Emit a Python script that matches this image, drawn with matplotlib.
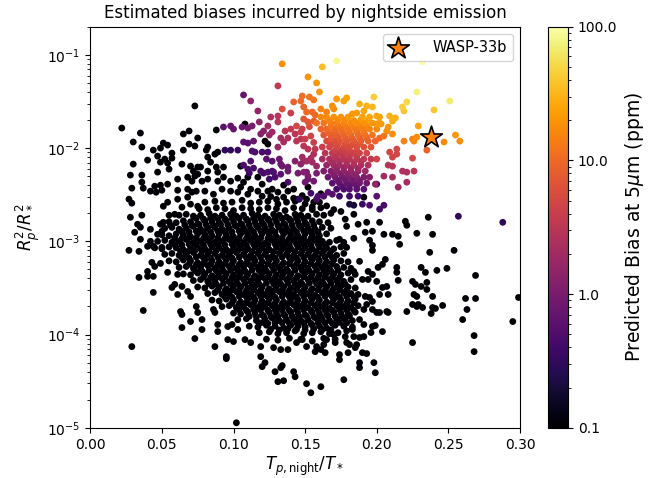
import matplotlib
matplotlib.use("Agg")
import matplotlib.pyplot as plt
import numpy as np
from matplotlib.colors import LogNorm

# ---------------- data ----------------
# black points (bias below 0.1 ppm): (T_night/T_star, log10(Rp^2/R*^2))
black_upper = [
    (.073,-1.548),(.022,-1.785),(.035,-1.839),(.065,-1.849),(.069,-1.817),(.030,-1.935),(.036,-1.989),
    (.051,-1.946),(.054,-1.968),(.044,-2.022),(.049,-2.000),(.069,-1.957),(.073,-1.978),(.065,-2.022),
    (.057,-2.054),(.047,-2.086),(.052,-2.118),(.057,-2.108),(.040,-2.129),(.030,-2.172),(.064,-2.172),
    (.070,-2.194),(.075,-2.204),(.049,-2.151),(.054,-2.161),(.047,-2.258),(.055,-2.226),(.028,-2.290),
    (.036,-2.290),(.072,-2.247),(.075,-2.280),(.061,-2.333),(.068,-2.312),(.071,-2.355),(.036,-2.366),
    (.045,-2.409),(.049,-2.398),(.054,-2.387),(.029,-2.430),(.037,-2.430),(.042,-2.462),(.046,-2.473),
    (.050,-2.452),(.061,-2.452),(.068,-2.441),(.071,-2.473),(.074,-2.462),(.027,-2.548),(.029,-2.591),
    (.054,-2.581),(.051,-2.624),(.061,-2.548),(.068,-2.527),(.070,-2.602),(.064,-2.634),(.075,-2.624),
    (.028,-2.742),(.036,-2.720),(.055,-2.720),(.059,-2.710),(.033,-2.817),(.035,-2.849),(.049,-2.817),
    (.051,-2.796),(.056,-2.828),(.031,-2.903),(.042,-2.871),(.047,-2.925),(.050,-2.892),(.035,-2.978),
    (.042,-3.000),(.040,-3.054),(.044,-3.054),(.050,-3.065),(.027,-3.097),(.034,-3.108),(.043,-3.226),
    (.049,-3.237),(.045,-3.269),
    (.088,-1.806),(.108,-1.742),(.075,-1.892),(.082,-1.989),(.081,-2.022),(.089,-2.043),(.088,-2.204),
    (.093,-2.204),(.082,-2.097),(.084,-2.151),(.077,-2.204),(.082,-2.247),(.073,-2.301),(.078,-2.355),
    (.082,-2.333),(.089,-2.355),(.093,-2.312),(.098,-2.355),(.103,-2.323),(.107,-2.366),(.110,-2.312),
    (.117,-2.312),(.122,-1.925),(.124,-1.957),(.087,-2.065),(.105,-2.194),(.089,-2.258),(.138,-2.462),
    (.142,-2.441),(.145,-2.548),(.152,-2.419),(.124,-2.462),(.127,-2.441),(.131,-2.473),(.117,-2.462),
    (.110,-2.495),(.103,-2.473),(.098,-2.462),(.191,-2.527),(.156,-2.581),(.151,-2.548),
    (.120,-2.387),(.135,-2.398),(.080,-2.462),(.086,-2.495),(.092,-2.441),(.105,-2.419),(.112,-2.441),
    (.120,-2.516),(.135,-2.527),(.142,-2.538),
    (.150,-2.60),(.155,-2.63),(.160,-2.58),(.165,-2.62),(.170,-2.66),(.168,-2.70),(.175,-2.68),
    (.148,-2.51),(.161,-2.49),(.130,-2.55),(.126,-2.52),
]

black_core_top = [
    (.080,-2.58),(.087,-2.57),(.093,-2.59),(.099,-2.58),(.106,-2.56),(.112,-2.59),(.118,-2.58),(.124,-2.57),
    (.131,-2.60),(.137,-2.58),(.143,-2.57),
    (.076,-2.65),(.082,-2.66),(.088,-2.64),(.094,-2.65),(.100,-2.67),(.106,-2.64),(.112,-2.65),(.118,-2.66),
    (.124,-2.64),(.130,-2.65),(.136,-2.67),(.142,-2.64),(.148,-2.65),(.155,-2.66),(.161,-2.64),
    (.062,-2.72),(.067,-2.71),(.072,-2.73),(.077,-2.72),(.083,-2.70),(.087,-2.73),(.092,-2.72),(.098,-2.71),
    (.102,-2.73),(.107,-2.72),(.113,-2.70),(.117,-2.72),(.122,-2.73),(.128,-2.71),(.132,-2.72),(.137,-2.74),
    (.143,-2.71),(.147,-2.72),(.152,-2.73),(.158,-2.71),(.163,-2.72),
    (.055,-2.79),(.060,-2.80),(.065,-2.78),(.070,-2.79),(.075,-2.81),(.080,-2.78),(.085,-2.79),(.090,-2.80),
    (.095,-2.78),(.100,-2.79),(.105,-2.81),(.110,-2.78),(.115,-2.79),(.120,-2.80),(.125,-2.78),(.130,-2.79),
    (.135,-2.81),(.140,-2.78),(.145,-2.79),(.150,-2.80),(.155,-2.78),(.160,-2.79),(.166,-2.80),
    (.052,-2.86),(.057,-2.85),(.062,-2.87),(.067,-2.86),(.072,-2.84),(.077,-2.87),(.082,-2.86),(.087,-2.85),
    (.092,-2.87),(.097,-2.86),(.102,-2.84),(.107,-2.86),(.112,-2.87),(.117,-2.85),(.122,-2.86),(.127,-2.88),
    (.132,-2.85),(.137,-2.86),(.142,-2.87),(.147,-2.85),(.152,-2.86),(.157,-2.87),(.162,-2.85),(.168,-2.86),
    (.050,-2.93),(.055,-2.94),(.060,-2.92),(.065,-2.93),(.070,-2.95),(.075,-2.92),(.080,-2.93),(.085,-2.94),
    (.090,-2.92),(.095,-2.93),(.100,-2.95),(.105,-2.92),(.110,-2.93),(.115,-2.94),(.120,-2.92),(.125,-2.93),
    (.130,-2.95),(.135,-2.92),(.140,-2.93),(.145,-2.94),(.150,-2.92),(.155,-2.93),(.160,-2.94),(.165,-2.92),
    (.047,-3.00),(.052,-2.99),(.057,-3.01),(.062,-3.00),(.067,-2.98),(.072,-3.01),(.077,-3.00),(.082,-2.99),
    (.087,-3.01),(.092,-3.00),(.097,-2.98),(.102,-3.00),(.107,-3.01),(.112,-2.99),(.117,-3.00),(.122,-3.02),
    (.127,-2.99),(.132,-3.00),(.137,-3.01),(.142,-2.99),(.147,-3.00),(.152,-3.01),(.157,-2.99),(.162,-3.00),
    (.167,-3.01),(.172,-2.99),
]

black_core_mid = [
    (.045,-3.07),(.050,-3.08),(.055,-3.06),(.060,-3.07),(.065,-3.09),(.070,-3.06),(.075,-3.07),(.080,-3.08),
    (.085,-3.06),(.090,-3.07),(.095,-3.09),(.100,-3.06),(.105,-3.07),(.110,-3.08),(.115,-3.06),(.120,-3.07),
    (.125,-3.09),(.130,-3.06),(.135,-3.07),(.140,-3.08),(.145,-3.06),(.150,-3.07),(.155,-3.08),(.160,-3.06),
    (.165,-3.07),(.170,-3.08),(.175,-3.06),
    (.052,-3.14),(.057,-3.13),(.062,-3.15),(.067,-3.14),(.072,-3.12),(.077,-3.15),(.082,-3.14),(.087,-3.13),
    (.092,-3.15),(.097,-3.14),(.102,-3.12),(.107,-3.14),(.112,-3.15),(.117,-3.13),(.122,-3.14),(.127,-3.16),
    (.132,-3.13),(.137,-3.14),(.142,-3.15),(.147,-3.13),(.152,-3.14),(.157,-3.15),(.162,-3.13),(.167,-3.14),
    (.172,-3.15),(.177,-3.13),
    (.055,-3.21),(.060,-3.22),(.065,-3.20),(.070,-3.21),(.075,-3.23),(.080,-3.20),(.085,-3.21),(.090,-3.22),
    (.095,-3.20),(.100,-3.21),(.105,-3.23),(.110,-3.20),(.115,-3.21),(.120,-3.22),(.125,-3.20),(.130,-3.21),
    (.135,-3.23),(.140,-3.20),(.145,-3.21),(.150,-3.22),(.155,-3.20),(.160,-3.21),(.165,-3.22),(.170,-3.20),
    (.175,-3.21),(.180,-3.22),
    (.062,-3.28),(.067,-3.27),(.072,-3.29),(.077,-3.28),(.082,-3.26),(.087,-3.29),(.092,-3.28),(.097,-3.27),
    (.102,-3.29),(.107,-3.28),(.112,-3.26),(.117,-3.28),(.122,-3.29),(.127,-3.27),(.132,-3.28),(.137,-3.30),
    (.142,-3.27),(.147,-3.28),(.152,-3.29),(.157,-3.27),(.162,-3.28),(.167,-3.29),(.172,-3.27),(.177,-3.28),
    (.182,-3.29),
    (.065,-3.35),(.070,-3.36),(.075,-3.34),(.080,-3.35),(.085,-3.37),(.090,-3.34),(.095,-3.35),(.100,-3.36),
    (.105,-3.34),(.110,-3.35),(.115,-3.37),(.120,-3.34),(.125,-3.35),(.130,-3.36),(.135,-3.34),(.140,-3.35),
    (.145,-3.37),(.150,-3.34),(.155,-3.35),(.160,-3.36),(.165,-3.34),(.170,-3.35),(.175,-3.36),(.180,-3.34),
    (.072,-3.42),(.077,-3.41),(.082,-3.43),(.087,-3.42),(.092,-3.40),(.097,-3.43),(.102,-3.42),(.107,-3.41),
    (.112,-3.43),(.117,-3.42),(.122,-3.40),(.127,-3.42),(.132,-3.43),(.137,-3.41),(.142,-3.42),(.147,-3.44),
    (.152,-3.41),(.157,-3.42),(.162,-3.43),(.167,-3.41),(.172,-3.42),(.177,-3.43),(.182,-3.41),
    (.075,-3.49),(.080,-3.50),(.085,-3.48),(.090,-3.49),(.095,-3.51),(.100,-3.48),(.105,-3.49),(.110,-3.50),
    (.115,-3.48),(.120,-3.49),(.125,-3.51),(.130,-3.48),(.135,-3.49),(.140,-3.50),(.145,-3.48),(.150,-3.49),
    (.155,-3.51),(.160,-3.48),(.165,-3.49),(.170,-3.50),(.175,-3.48),(.180,-3.49),(.185,-3.50),
]

black_core_low = [
    (.082,-3.56),(.087,-3.55),(.092,-3.57),(.097,-3.56),(.102,-3.54),(.107,-3.57),(.112,-3.56),(.117,-3.55),
    (.122,-3.57),(.127,-3.56),(.132,-3.54),(.137,-3.56),(.142,-3.57),(.147,-3.55),(.152,-3.56),(.157,-3.58),
    (.162,-3.55),(.167,-3.56),(.172,-3.57),(.177,-3.55),(.182,-3.56),(.187,-3.57),
    (.085,-3.63),(.090,-3.64),(.095,-3.62),(.100,-3.63),(.105,-3.65),(.110,-3.62),(.115,-3.63),(.120,-3.64),
    (.125,-3.62),(.130,-3.63),(.135,-3.65),(.140,-3.62),(.145,-3.63),(.150,-3.64),(.155,-3.62),(.160,-3.63),
    (.165,-3.65),(.170,-3.62),(.175,-3.63),(.180,-3.64),(.185,-3.62),
    (.092,-3.70),(.097,-3.69),(.102,-3.71),(.107,-3.70),(.112,-3.68),(.117,-3.71),(.122,-3.70),(.127,-3.69),
    (.132,-3.71),(.137,-3.70),(.142,-3.68),(.147,-3.70),(.152,-3.71),(.157,-3.69),(.162,-3.70),(.167,-3.72),
    (.172,-3.69),(.177,-3.70),(.182,-3.71),(.187,-3.69),
    (.100,-3.77),(.105,-3.78),(.110,-3.76),(.115,-3.77),(.120,-3.79),(.125,-3.76),(.130,-3.77),(.135,-3.78),
    (.140,-3.76),(.145,-3.77),(.150,-3.79),(.155,-3.76),(.160,-3.77),(.165,-3.78),(.170,-3.76),(.175,-3.77),
    (.180,-3.78),(.185,-3.76),
    (.103,-3.84),(.109,-3.83),(.116,-3.85),(.122,-3.84),(.127,-3.82),(.132,-3.85),(.137,-3.84),(.142,-3.83),
    (.147,-3.85),(.152,-3.84),(.157,-3.82),(.162,-3.84),(.167,-3.85),(.172,-3.83),(.178,-3.84),(.183,-3.85),
    (.111,-3.91),(.117,-3.92),(.123,-3.90),(.129,-3.91),(.135,-3.93),(.140,-3.90),(.145,-3.91),(.150,-3.92),
    (.155,-3.90),(.160,-3.91),(.165,-3.93),(.171,-3.90),(.177,-3.91),(.183,-3.92),
    (.118,-3.98),(.125,-3.97),(.131,-3.99),(.137,-3.98),(.143,-3.96),(.149,-3.99),(.155,-3.98),(.161,-3.97),
    (.167,-3.99),(.173,-3.98),(.179,-3.96),
    (.123,-4.05),(.131,-4.06),(.139,-4.04),(.147,-4.05),(.155,-4.07),(.163,-4.04),(.171,-4.05),
]

# extra points in the solid part of the black cloud (upper half / lower half)
black_fill_upper = [
    (.074,-2.755),(.079,-2.76),(.084,-2.75),(.089,-2.755),(.094,-2.76),(.099,-2.75),(.104,-2.755),(.109,-2.76),
    (.114,-2.75),(.119,-2.755),(.124,-2.76),(.129,-2.75),(.134,-2.755),(.139,-2.76),(.144,-2.75),(.149,-2.755),
    (.066,-2.825),(.071,-2.83),(.076,-2.82),(.081,-2.825),(.086,-2.83),(.091,-2.82),(.096,-2.825),(.101,-2.83),
    (.106,-2.82),(.111,-2.825),(.116,-2.83),(.121,-2.82),(.126,-2.825),(.131,-2.83),(.136,-2.82),(.141,-2.825),
    (.146,-2.83),(.151,-2.82),(.156,-2.825),
    (.064,-2.895),(.069,-2.90),(.074,-2.89),(.079,-2.895),(.084,-2.90),(.089,-2.89),(.094,-2.895),(.099,-2.90),
    (.104,-2.89),(.109,-2.895),(.114,-2.90),(.119,-2.89),(.124,-2.895),(.129,-2.90),(.134,-2.89),(.139,-2.895),
    (.144,-2.90),(.149,-2.89),(.154,-2.895),(.159,-2.90),
    (.059,-2.965),(.064,-2.97),(.069,-2.96),(.074,-2.965),(.079,-2.97),(.084,-2.96),(.089,-2.965),(.094,-2.97),
    (.099,-2.96),(.104,-2.965),(.109,-2.97),(.114,-2.96),(.119,-2.965),(.124,-2.97),(.129,-2.96),(.134,-2.965),
    (.139,-2.97),(.144,-2.96),(.149,-2.965),(.154,-2.97),(.159,-2.96),
    (.059,-3.035),(.064,-3.04),(.069,-3.03),(.074,-3.035),(.079,-3.04),(.084,-3.03),(.089,-3.035),(.094,-3.04),
    (.099,-3.03),(.104,-3.035),(.109,-3.04),(.114,-3.03),(.119,-3.035),(.124,-3.04),(.129,-3.03),(.134,-3.035),
    (.139,-3.04),(.144,-3.03),(.149,-3.035),(.154,-3.04),(.159,-3.03),(.164,-3.035),
    (.063,-3.105),(.068,-3.11),(.073,-3.10),(.078,-3.105),(.083,-3.11),(.088,-3.10),(.093,-3.105),(.098,-3.11),
    (.103,-3.10),(.108,-3.105),(.113,-3.11),(.118,-3.10),(.123,-3.105),(.128,-3.11),(.133,-3.10),(.138,-3.105),
    (.143,-3.11),(.148,-3.10),(.153,-3.105),(.158,-3.11),(.163,-3.10),(.168,-3.105),
    (.064,-3.175),(.069,-3.18),(.074,-3.17),(.079,-3.175),(.084,-3.18),(.089,-3.17),(.094,-3.175),(.099,-3.18),
    (.104,-3.17),(.109,-3.175),(.114,-3.18),(.119,-3.17),(.124,-3.175),(.129,-3.18),(.134,-3.17),(.139,-3.175),
    (.144,-3.18),(.149,-3.17),(.154,-3.175),(.159,-3.18),(.164,-3.17),(.169,-3.175),
    (.069,-3.245),(.074,-3.25),(.079,-3.24),(.084,-3.245),(.089,-3.25),(.094,-3.24),(.099,-3.245),(.104,-3.25),
    (.109,-3.24),(.114,-3.245),(.119,-3.25),(.124,-3.24),(.129,-3.245),(.134,-3.25),(.139,-3.24),(.144,-3.245),
    (.149,-3.25),(.154,-3.24),(.159,-3.245),(.164,-3.25),(.169,-3.24),
]

black_fill_lower = [
    (.073,-3.315),(.078,-3.32),(.083,-3.31),(.088,-3.315),(.093,-3.32),(.098,-3.31),(.103,-3.315),(.108,-3.32),
    (.113,-3.31),(.118,-3.315),(.123,-3.32),(.128,-3.31),(.133,-3.315),(.138,-3.32),(.143,-3.31),(.148,-3.315),
    (.153,-3.32),(.158,-3.31),(.163,-3.315),(.168,-3.32),(.173,-3.31),
    (.079,-3.385),(.084,-3.39),(.089,-3.38),(.094,-3.385),(.099,-3.39),(.104,-3.38),(.109,-3.385),(.114,-3.39),
    (.119,-3.38),(.124,-3.385),(.129,-3.39),(.134,-3.38),(.139,-3.385),(.144,-3.39),(.149,-3.38),(.154,-3.385),
    (.159,-3.39),(.164,-3.38),(.169,-3.385),(.174,-3.39),
    (.083,-3.455),(.088,-3.46),(.093,-3.45),(.098,-3.455),(.103,-3.46),(.108,-3.45),(.113,-3.455),(.118,-3.46),
    (.123,-3.45),(.128,-3.455),(.133,-3.46),(.138,-3.45),(.143,-3.455),(.148,-3.46),(.153,-3.45),(.158,-3.455),
    (.163,-3.46),(.168,-3.45),(.173,-3.455),(.178,-3.46),
    (.089,-3.525),(.094,-3.53),(.099,-3.52),(.104,-3.525),(.109,-3.53),(.114,-3.52),(.119,-3.525),(.124,-3.53),
    (.129,-3.52),(.134,-3.525),(.139,-3.53),(.144,-3.52),(.149,-3.525),(.154,-3.53),(.159,-3.52),(.164,-3.525),
    (.169,-3.53),(.174,-3.52),(.179,-3.525),
    (.094,-3.595),(.099,-3.60),(.104,-3.59),(.109,-3.595),(.114,-3.60),(.119,-3.59),(.124,-3.595),(.129,-3.60),
    (.134,-3.59),(.139,-3.595),(.144,-3.60),(.149,-3.59),(.154,-3.595),(.159,-3.60),(.164,-3.59),(.169,-3.595),
    (.174,-3.60),(.179,-3.59),(.184,-3.595),
    (.099,-3.665),(.104,-3.67),(.109,-3.66),(.114,-3.665),(.119,-3.67),(.124,-3.66),(.129,-3.665),(.134,-3.67),
    (.139,-3.66),(.144,-3.665),(.149,-3.67),(.154,-3.66),(.159,-3.665),(.164,-3.67),(.169,-3.66),(.174,-3.665),
    (.179,-3.67),(.184,-3.66),
    (.104,-3.735),(.109,-3.74),(.114,-3.73),(.119,-3.735),(.124,-3.74),(.129,-3.73),(.134,-3.735),(.139,-3.74),
    (.144,-3.73),(.149,-3.735),(.154,-3.74),(.159,-3.73),(.164,-3.735),(.169,-3.74),(.174,-3.73),(.179,-3.735),
    (.184,-3.74),
    (.111,-3.805),(.116,-3.81),(.121,-3.80),(.126,-3.805),(.131,-3.81),(.136,-3.80),(.141,-3.805),(.146,-3.81),
    (.151,-3.80),(.156,-3.805),(.161,-3.81),(.166,-3.80),(.171,-3.805),(.176,-3.81),(.181,-3.80),
    (.119,-3.875),(.124,-3.88),(.129,-3.87),(.134,-3.875),(.139,-3.88),(.144,-3.87),(.149,-3.875),(.154,-3.88),
    (.159,-3.87),(.164,-3.875),(.169,-3.88),(.174,-3.87),(.179,-3.875),
    (.126,-3.945),(.132,-3.95),(.138,-3.94),(.144,-3.945),(.150,-3.95),(.156,-3.94),(.162,-3.945),(.168,-3.95),
]

black_right = [
    (.178,-2.763),(.179,-2.839),(.184,-2.710),(.187,-2.817),(.193,-2.796),(.192,-2.903),(.197,-2.892),
    (.202,-2.796),(.205,-2.925),(.211,-2.925),(.215,-2.946),(.220,-2.785),(.221,-2.828),(.236,-2.742),
    (.228,-2.914),(.239,-2.925),(.195,-2.989),(.197,-3.043),(.197,-3.097),(.184,-2.968),(.177,-3.011),
    (.179,-3.065),(.174,-2.978),
    (.216,-3.032),(.206,-3.194),(.204,-3.247),(.201,-3.280),(.188,-3.215),(.214,-3.280),(.214,-3.333),
    (.215,-3.419),(.225,-3.430),(.227,-3.462),(.226,-3.570),(.228,-3.591),(.229,-3.677),(.194,-3.323),
    (.197,-3.355),(.194,-3.409),(.184,-3.323),(.185,-3.355),(.190,-3.409),(.200,-3.430),(.204,-3.495),
    (.207,-3.484),(.208,-3.570),(.202,-3.570),(.207,-3.753),(.192,-3.591),(.195,-3.602),(.197,-3.645),
    (.193,-3.677),(.191,-3.731),(.197,-3.731),(.200,-3.763),(.221,-3.753),(.225,-3.677),(.228,-3.699),
    (.225,-4.086),(.188,-3.839),(.191,-3.892),(.197,-3.914),(.199,-3.903),(.204,-3.968),(.196,-3.978),
    (.191,-4.022),(.188,-4.032),(.183,-3.946),(.184,-4.022),(.178,-4.022),(.179,-4.086),(.181,-4.108),
    (.185,-4.140),(.186,-4.108),(.208,-3.763),(.202,-3.763),
    (.237,-3.118),(.254,-3.097),(.231,-3.280),(.234,-3.333),(.242,-3.312),(.249,-3.290),(.269,-3.366),
    (.235,-3.441),(.231,-3.484),(.235,-3.516),(.239,-3.591),(.232,-3.710),(.239,-3.710),(.241,-3.720),
    (.246,-3.688),(.238,-3.774),(.262,-3.613),(.269,-3.613),(.263,-3.731),(.260,-3.839),(.299,-3.602),
    (.295,-3.860),(.268,-4.011),(.268,-4.183),
]

black_lower = [
    (.102,-4.946),(.087,-4.129),(.095,-4.237),(.095,-4.258),(.096,-4.054),(.100,-4.075),(.078,-3.946),
    (.078,-3.839),(.086,-3.731),(.087,-3.763),(.089,-3.892),(.089,-3.968),(.096,-3.914),(.099,-3.892),
    (.103,-3.946),(.108,-4.054),(.112,-4.086),(.119,-4.237),(.120,-4.344),(.122,-4.301),(.129,-4.398),
    (.133,-4.355),(.134,-4.333),(.131,-4.505),(.135,-4.495),(.142,-4.398),(.143,-4.452),(.119,-4.129),
    (.128,-4.140),(.133,-4.161),(.138,-4.161),(.144,-4.086),(.148,-4.054),
    (.163,-4.108),(.158,-4.129),(.157,-4.183),(.164,-4.194),(.161,-4.161),(.151,-4.129),(.174,-4.215),
    (.174,-4.269),(.180,-4.194),(.190,-4.194),(.193,-4.204),(.188,-4.301),(.188,-4.355),(.198,-4.301),
    (.199,-4.409),(.177,-4.484),(.151,-4.527),(.154,-4.624),(.161,-4.559),(.170,-4.000),(.171,-4.086),
    (.165,-4.054),
    (.029,-4.129),(.037,-3.742),(.044,-3.548),(.034,-3.387),(.040,-3.376),(.044,-3.376),(.040,-3.323),
    (.054,-3.333),(.061,-3.355),(.059,-3.462),(.057,-3.495),(.064,-3.484),(.068,-3.538),(.061,-3.570),
    (.070,-3.591),(.063,-3.753),(.064,-3.785),(.070,-3.860),(.064,-3.925),(.073,-4.043),(.074,-3.699),
    (.075,-3.763),
]

black_bias_ppm = 0.05   # below the colour-scale minimum -> drawn black

# coloured points: (T_night/T_star, log10(Rp^2/R*^2), bias in ppm)
col_left = [
    (.131,-1.333,3.5),(.107,-1.430,0.7),(.112,-1.495,1.5),(.134,-1.581,6),(.140,-1.624,4),(.117,-1.602,1.5),
    (.126,-1.667,2.5),(.131,-1.656,3),(.118,-1.720,1.5),(.131,-1.720,3),(.124,-1.763,2),(.136,-1.817,3),
    (.140,-1.796,3.5),(.144,-1.763,5),(.148,-1.796,4),(.093,-1.774,0.6),(.098,-1.763,0.7),(.100,-1.796,0.7),
    (.106,-1.774,0.8),(.110,-1.785,0.9),(.113,-1.763,1.0),(.121,-1.817,1.3),(.119,-1.849,1.3),(.125,-1.860,1.6),
    (.127,-1.828,1.8),(.133,-1.892,2.2),(.135,-1.935,2.2),(.138,-1.892,2.6),(.143,-1.849,3),(.144,-1.925,3),
    (.147,-1.903,3.2),(.107,-1.935,0.6),(.110,-1.946,0.6),(.114,-1.925,0.7),(.131,-1.989,1.8),(.094,-2.022,0.3),
    (.098,-2.022,0.3),(.103,-2.022,0.35),(.113,-2.032,0.5),(.115,-2.043,0.5),(.120,-2.043,0.45),(.124,-2.043,0.45),
    (.123,-2.118,0.6),(.127,-2.140,0.6),(.132,-2.118,0.8),(.133,-2.172,0.8),(.134,-2.194,0.8),(.138,-2.204,0.9),
    (.138,-2.247,0.8),(.143,-2.140,1.2),(.147,-2.172,1.4),(.149,-2.140,1.6),(.112,-2.140,0.5),(.107,-2.183,0.45),
    (.110,-2.226,0.45),(.114,-2.215,0.45),(.111,-2.269,0.35),(.119,-2.247,0.45),(.121,-2.269,0.45),(.124,-2.258,0.5),
    (.127,-2.247,0.5),(.128,-2.258,0.5),(.133,-2.280,0.6),(.129,-2.312,0.45),(.138,-2.366,0.45),(.125,-2.333,0.35),
    (.145,-2.269,0.9),(.151,-2.258,1.0),(.152,-2.333,0.8),
    (.147,-1.828,4),(.150,-1.903,4),(.154,-1.871,4.5),(.149,-1.978,3),(.152,-2.011,3),(.156,-2.065,2.5),
    (.148,-2.097,2),(.151,-2.140,2),(.155,-2.151,2),(.158,-2.194,1.8),
    (.153,-1.770,6),(.156,-1.940,4),(.157,-2.010,3.2),(.154,-2.110,2.2),(.158,-2.270,1.1),
]

col_cluster = [
    (.161,-1.667,16),(.165,-1.667,17),(.170,-1.667,18),(.175,-1.667,19),(.180,-1.667,20),(.190,-1.667,24),
    (.195,-1.667,26),
    (.158,-1.731,11),(.163,-1.731,12),(.168,-1.731,13),(.172,-1.731,14),(.177,-1.731,15),(.182,-1.731,16),
    (.187,-1.731,17),(.192,-1.731,19),(.197,-1.731,20),(.202,-1.731,22),
    (.161,-1.796,9),(.165,-1.796,10),(.170,-1.796,10),(.175,-1.796,11),(.180,-1.796,12),(.185,-1.796,13),
    (.190,-1.796,14),(.195,-1.796,15),(.200,-1.796,16),
    (.163,-1.860,7),(.168,-1.860,8),(.172,-1.860,8),(.177,-1.860,9),(.182,-1.860,9),(.187,-1.860,10),
    (.192,-1.860,11),(.197,-1.860,12),
    (.165,-1.925,5.5),(.170,-1.925,6),(.174,-1.925,6.5),(.179,-1.925,7),(.184,-1.925,7),(.189,-1.925,8),
    (.194,-1.925,8.5),(.199,-1.925,9),
    (.162,-1.989,4),(.167,-1.989,4.5),(.172,-1.989,5),(.177,-1.989,5),(.181,-1.989,5.5),(.186,-1.989,6),
    (.191,-1.989,6.5),(.196,-1.989,7),
    (.164,-2.054,3),(.169,-2.054,3.3),(.174,-2.054,3.6),(.179,-2.054,4),(.184,-2.054,4.2),(.188,-2.054,4.5),
    (.193,-2.054,5),
    (.162,-2.118,2.2),(.167,-2.118,2.4),(.172,-2.118,2.6),(.177,-2.118,2.8),(.181,-2.118,3),(.186,-2.118,3.2),
    (.191,-2.118,3.4),(.196,-2.118,3.6),
    (.165,-2.183,1.6),(.170,-2.183,1.8),(.174,-2.183,1.9),(.179,-2.183,2.0),(.184,-2.183,2.2),(.189,-2.183,2.4),
    (.194,-2.183,2.6),
    (.163,-2.247,1.1),(.168,-2.247,1.2),(.172,-2.247,1.3),(.177,-2.247,1.4),(.182,-2.247,1.5),(.187,-2.247,1.6),
    (.192,-2.247,1.8),
    (.166,-2.312,0.8),(.171,-2.312,0.85),(.176,-2.312,0.9),(.181,-2.312,1.0),(.186,-2.312,1.05),(.191,-2.312,1.1),
    (.195,-2.312,1.2),
    (.169,-2.376,0.6),(.174,-2.376,0.65),(.179,-2.376,0.7),(.184,-2.376,0.75),(.188,-2.376,0.8),(.193,-2.376,0.85),
    (.172,-2.441,0.45),(.177,-2.441,0.5),(.181,-2.441,0.55),(.186,-2.441,0.6),(.191,-2.441,0.6),
    (.174,-2.516,0.35),(.181,-2.516,0.4),(.187,-2.516,0.4),
]

col_cluster_fill = [
    (.167,-1.705,15),(.173,-1.695,16),(.178,-1.700,17),(.184,-1.705,18),(.189,-1.695,20),(.194,-1.700,22),
    (.168,-1.770,12),(.173,-1.760,12),(.178,-1.764,13),(.183,-1.770,14),(.188,-1.760,15),(.193,-1.764,16),
    (.166,-1.833,9),(.171,-1.823,9),(.176,-1.828,10),(.181,-1.833,11),(.186,-1.823,11),(.191,-1.828,12),
    (.168,-1.898,7),(.173,-1.888,7),(.178,-1.893,7.5),(.183,-1.898,8),(.188,-1.888,8.5),(.193,-1.893,9),
    (.168,-1.962,5),(.173,-1.952,5.5),(.178,-1.957,6),(.183,-1.962,6),(.188,-1.952,6.5),
    (.171,-2.026,4),(.176,-2.016,4.2),(.181,-2.021,4.5),(.186,-2.026,4.8),
    (.171,-2.091,3),(.176,-2.081,3.2),(.181,-2.086,3.4),(.186,-2.091,3.6),
    (.169,-2.155,2.1),(.174,-2.145,2.2),(.179,-2.150,2.4),(.184,-2.155,2.6),(.189,-2.145,2.8),
    (.172,-2.220,1.5),(.177,-2.210,1.6),(.182,-2.215,1.7),(.187,-2.220,1.8),
    (.170,-2.285,1.05),(.175,-2.275,1.1),(.180,-2.280,1.2),(.185,-2.285,1.3),
    (.173,-2.349,0.75),(.178,-2.339,0.8),(.183,-2.344,0.85),(.188,-2.349,0.9),
    (.176,-2.414,0.55),(.181,-2.404,0.6),(.186,-2.409,0.65),
]

col_right = [
    (.172,-1.065,85),(.232,-1.075,95),(.228,-1.398,75),(.251,-1.495,70),(.162,-1.129,35),(.198,-1.452,45),
    (.221,-1.505,50),(.218,-1.559,45),(.219,-1.602,40),(.240,-1.591,40),(.229,-1.763,25),
    (.152,-1.237,20),(.158,-1.301,20),(.160,-1.398,20),(.134,-1.097,18),(.172,-1.473,22),(.177,-1.495,22),
    (.179,-1.462,24),(.188,-1.527,30),(.193,-1.548,30),(.197,-1.559,32),(.153,-1.452,12),(.156,-1.484,12),
    (.149,-1.559,9),(.147,-1.495,10),(.148,-1.441,11),(.142,-1.505,9),(.161,-1.581,15),(.165,-1.613,15),
    (.169,-1.548,18),(.170,-1.581,17),(.183,-1.634,20),(.186,-1.624,22),(.191,-1.602,25),(.200,-1.656,25),
    (.202,-1.667,25),(.209,-1.656,30),(.213,-1.677,30),(.211,-1.710,27),(.151,-1.613,10),(.155,-1.613,10),
    (.157,-1.645,10),(.149,-1.688,7),(.152,-1.720,7),(.156,-1.710,8),(.207,-1.817,18),(.211,-1.849,18),
    (.208,-1.774,20),(.202,-1.892,10),(.205,-1.871,12),(.219,-1.925,15),(.228,-1.882,18),(.226,-1.925,16),
    (.255,-1.860,20),(.258,-1.925,18),(.247,-1.935,17),(.235,-2.022,9),(.225,-1.903,14),(.200,-1.742,20),
    (.203,-1.742,20),
    (.214,-2.011,5),(.209,-2.043,5),(.211,-2.097,4.5),(.200,-2.118,4.5),(.225,-2.108,5),(.208,-2.183,3),
    (.211,-2.194,3),(.226,-2.247,3),(.218,-2.247,2.5),(.221,-2.258,2.5),(.205,-2.301,2),(.221,-2.366,2),
    (.215,-2.419,1.8),(.199,-2.387,1.5),(.211,-2.312,2.2),(.214,-2.065,5),
    (.200,-2.387,0.3),(.200,-2.516,0.6),(.205,-2.613,0.45),(.202,-2.656,0.4),(.195,-2.613,0.45),
    (.166,-2.473,0.6),(.169,-2.495,0.6),(.163,-2.516,0.5),(.159,-2.516,0.5),(.158,-2.548,0.45),
    (.149,-2.258,1.2),(.152,-2.301,1.1),(.156,-2.355,0.9),(.150,-2.366,0.8),(.257,-2.731,0.3),
    (.288,-2.796,0.28),(.146,-2.548,0.3),(.154,-2.484,0.4),(.181,-2.602,0.2),(.184,-2.613,0.2),
    (.190,-2.602,0.35),
]

wasp33_t = 0.238
wasp33_logdepth = -1.882

# ---------------- figure ----------------
fig = plt.figure(figsize=(6.59, 4.78), dpi=100)
ax = fig.add_axes([0.137, 0.105, 0.652, 0.839])
cax = fig.add_axes([0.8316, 0.105, 0.0304, 0.839])

cmap = plt.get_cmap('inferno')
norm = LogNorm(vmin=0.1, vmax=100)
MS = 24

black = (black_upper + black_core_top + black_core_mid + black_core_low + black_fill_upper
         + black_fill_lower + black_right + black_lower)
bt = np.array([p[0] for p in black])
bd = 10.0 ** np.array([p[1] for p in black])
ax.scatter(bt, bd, c=np.full(len(bt), black_bias_ppm), cmap=cmap, norm=norm, s=MS, linewidths=0)

col = sorted(col_left + col_cluster + col_cluster_fill + col_right, key=lambda p: p[2])
ct = np.array([p[0] for p in col])
cd = 10.0 ** np.array([p[1] for p in col])
cb_vals = np.array([p[2] for p in col])
sc = ax.scatter(ct, cd, c=cb_vals, cmap=cmap, norm=norm, s=MS, linewidths=0)

ax.scatter([wasp33_t], [10.0 ** wasp33_logdepth], marker='*', s=270, color='tab:orange',
           edgecolors='black', linewidths=1.2, label='WASP-33b', zorder=5)

ax.set_yscale('log')
ax.set_xlim(0, 0.3)
ax.set_ylim(1e-5, 0.2)
ax.set_xlabel(r'$T_{p,\rm night}/T_*$', fontsize=12, labelpad=2)
ax.set_ylabel(r'$R_p^2/R_*^2$', fontsize=12)
ax.set_title('Estimated biases incurred by nightside emission', fontsize=12)
ax.legend(loc='upper right', fontsize=10.5, handlelength=1.3, handletextpad=1.7)

cb = fig.colorbar(sc, cax=cax)
cb.set_ticks([0.1, 1, 10, 100])
cb.set_ticklabels(['0.1', '1.0', '10.0', '100.0'])
cb.set_label(r'Predicted Bias at 5$\mu$m (ppm)', fontsize=13.5)

fig.savefig('out.png', dpi=100)
